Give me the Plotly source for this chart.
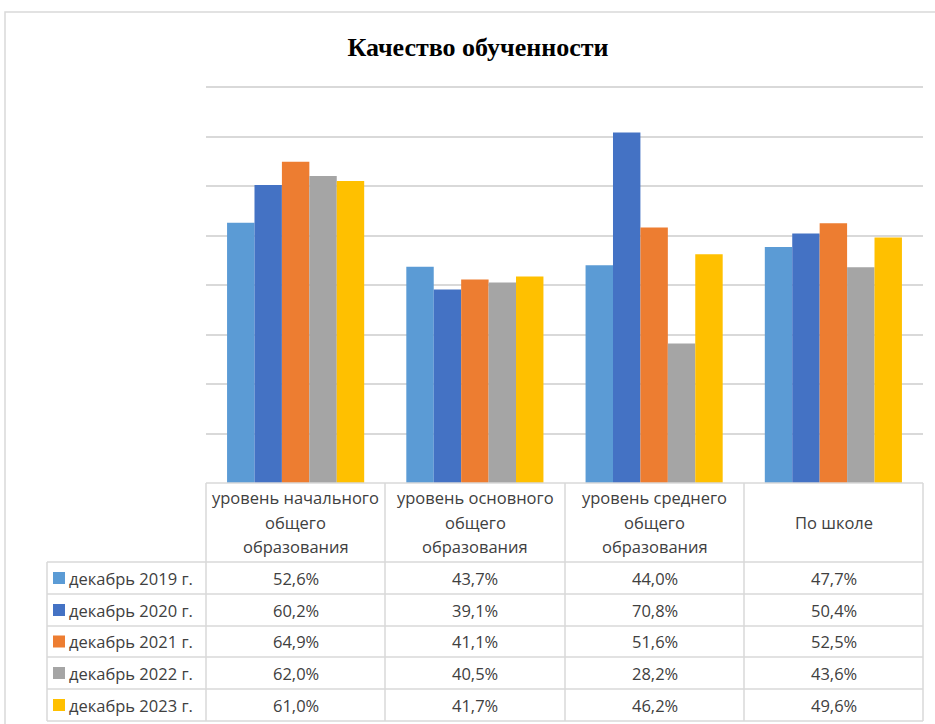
import plotly.graph_objects as go

categories = ["уровень начального\nобщего\nобразования",
              "уровень основного\nобщего\nобразования",
              "уровень среднего\nобщего\nобразования",
              "По школе"]
series_names = ["декабрь 2019 г.", "декабрь 2020 г.", "декабрь 2021 г.",
                "декабрь 2022 г.", "декабрь 2023 г."]
v2019 = [52.6, 43.7, 44.0, 47.7]
v2020 = [60.2, 39.1, 70.8, 50.4]
v2021 = [64.9, 41.1, 51.6, 52.5]
v2022 = [62.0, 40.5, 28.2, 43.6]
v2023 = [61.0, 41.7, 46.2, 49.6]
series_values = [v2019, v2020, v2021, v2022, v2023]
colors = ["#5B9BD5", "#4472C4", "#ED7D31", "#A5A5A5", "#FFC000"]
title = "Качество обученности"

W, H = 935, 724
def px(x):
    return x / W
def py(y):
    return 1 - y / H

# layout geometry (pixels)
PL, PR, PT, PB = 206, 923, 87, 483
YMAX = 80.5
PT_EXT = PB - (PB - PT) * YMAX / 80
col_edges = [206, 385, 565, 744, 923]
row_edges = [562, 594, 626, 657, 689, 721]
TX = 47
TXTC = "#404040"
GRID = "#D9D9D9"
FONT = "Open Sans"
FS = 16.5

x_labels = [c.replace("\n", " ") for c in categories]

fig = go.Figure()
for name, vals, col in zip(series_names, series_values, colors):
    fig.add_trace(go.Bar(x=x_labels, y=vals, name=name, marker_color=col,
                         marker_line_width=0))

shapes = []
annotations = []

# outer chart border
shapes.append(dict(type="rect", xref="paper", yref="paper",
                   x0=px(5), x1=px(945), y0=py(740), y1=py(12),
                   line=dict(color=GRID, width=1.5), layer="below"))

# table lines
lc = dict(color=GRID, width=1.5)
shapes.append(dict(type="line", xref="paper", yref="paper", x0=px(PL), x1=px(PR),
                   y0=py(PB), y1=py(PB), line=lc))
for x in col_edges:
    shapes.append(dict(type="line", xref="paper", yref="paper", x0=px(x), x1=px(x),
                       y0=py(PB), y1=py(row_edges[-1]), line=lc))
shapes.append(dict(type="line", xref="paper", yref="paper", x0=px(TX), x1=px(TX),
                   y0=py(row_edges[0]), y1=py(row_edges[-1]), line=lc))
for y in row_edges:
    shapes.append(dict(type="line", xref="paper", yref="paper", x0=px(TX), x1=px(PR),
                       y0=py(y), y1=py(y), line=lc))

# header text
for i, cat in enumerate(categories):
    lines = cat.split("\n")
    cx = (col_edges[i] + col_edges[i + 1]) / 2
    mid = 522
    n = len(lines)
    for j, ln in enumerate(lines):
        yy = mid + (j - (n - 1) / 2) * 24.5
        annotations.append(dict(x=px(cx), y=py(yy), xref="paper", yref="paper",
                                text=ln, showarrow=False, xanchor="center", yanchor="middle",
                                font=dict(family=FONT, size=FS, color=TXTC)))

# rows
for r, (name, vals, col) in enumerate(zip(series_names, series_values, colors)):
    yc = (row_edges[r] + row_edges[r + 1]) / 2
    shapes.append(dict(type="rect", xref="paper", yref="paper",
                       x0=px(53), x1=px(65), y0=py(yc + 6), y1=py(yc - 6),
                       fillcolor=col, line=dict(width=0)))
    annotations.append(dict(x=px(67), y=py(yc), xref="paper", yref="paper",
                            text=name, showarrow=False, xanchor="left", yanchor="middle",
                            font=dict(family=FONT, size=FS, color=TXTC)))
    for i, v in enumerate(vals):
        cx = (col_edges[i] + col_edges[i + 1]) / 2
        annotations.append(dict(x=px(cx), y=py(yc), xref="paper", yref="paper",
                                text=f"{v:.1f}%".replace(".", ","), showarrow=False,
                                xanchor="center", yanchor="middle",
                                font=dict(family=FONT, size=FS, color=TXTC)))

fig.update_layout(
    width=W, height=H,
    margin=dict(l=0, r=0, t=0, b=0),
    paper_bgcolor="white", plot_bgcolor="white",
    barmode="group", bargap=0.235, bargroupgap=0,
    showlegend=False,
    title=dict(text="<b>" + title + "</b>", x=px(478), y=py(47), xanchor="center",
               yanchor="middle", font=dict(family="Liberation Serif", size=26, color="black")),
    xaxis=dict(domain=[px(PL), px(PR)], showticklabels=False, showgrid=False,
               zeroline=False, showline=False, ticks=""),
    yaxis=dict(domain=[py(PB), py(PT_EXT)], range=[0, YMAX], dtick=10, showticklabels=False,
               showgrid=True, gridcolor=GRID, gridwidth=1.5, zeroline=False, ticks=""),
    shapes=shapes, annotations=annotations,
)

fig.write_html("out.html", config={"displayModeBar": False},
               post_script="document.body.style.margin='0px';document.body.style.overflow='hidden';")
